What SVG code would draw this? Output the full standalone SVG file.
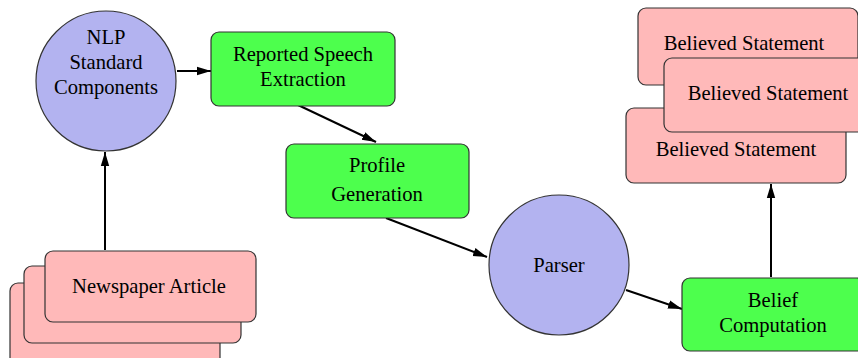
<svg xmlns="http://www.w3.org/2000/svg" width="858" height="358" viewBox="0 0 858 358">
<style>
text{font-size:20.6px;fill:#000;text-anchor:middle}
.pink{fill:#ffb9b9;stroke:#333;stroke-width:1.2}
.green{fill:#4dff4d;stroke:#333;stroke-width:1.2}
.blue{fill:#b3b3f0;stroke:#333;stroke-width:1.2}
.edge{stroke:#000;stroke-width:2;fill:none;marker-end:url(#arr)}
</style>
<defs>
<marker id="arr" markerUnits="userSpaceOnUse" markerWidth="15" markerHeight="10" refX="14" refY="5" orient="auto">
<path d="M0,0.8 L14,5 L0,9.2 z" fill="#000"/>
</marker>
</defs>
<rect width="858" height="358" fill="#fff"/>
<g id="connectors">
<line class="edge" x1="177" y1="71" x2="211" y2="71"/>
<line class="edge" x1="298" y1="105" x2="376" y2="142"/>
<line class="edge" x1="386" y1="218" x2="487" y2="257"/>
<line class="edge" x1="626" y1="290" x2="682" y2="309"/>
<line class="edge" x1="771" y1="277" x2="771" y2="184"/>
<line class="edge" x1="105" y1="250" x2="105" y2="152"/>
</g>
<g font-family="Liberation Serif, Times New Roman, serif">
<g id="newspaper-article">
<rect class="pink" x="10" y="283" width="210" height="85" rx="8"/>
<rect class="pink" x="24" y="266" width="217" height="77" rx="8"/>
<rect class="pink" x="45" y="251" width="211" height="71" rx="8"/>
<text x="149" y="293">Newspaper Article</text>
</g>
<g id="nlp">
<circle class="blue" cx="106" cy="81" r="70"/>
<text x="106" y="44">NLP</text>
<text x="106" y="69">Standard</text>
<text x="106" y="94">Components</text>
</g>
<g id="reported-speech">
<rect class="green" x="211" y="32" width="184" height="74" rx="8"/>
<text x="303" y="61">Reported Speech</text>
<text x="303" y="86">Extraction</text>
</g>
<g id="profile">
<rect class="green" x="286" y="144" width="183" height="74" rx="8"/>
<text x="377" y="172">Profile</text>
<text x="377" y="201">Generation</text>
</g>
<g id="parser">
<circle class="blue" cx="559" cy="265" r="70"/>
<text x="559" y="272">Parser</text>
</g>
<g id="belief">
<rect class="green" x="682" y="278" width="183" height="73" rx="8"/>
<text x="773" y="307">Belief</text>
<text x="773" y="332">Computation</text>
</g>
<g id="believed-statements">
<rect class="pink" x="638" y="8" width="220" height="77" rx="8"/>
<text x="744" y="50">Believed Statement</text>
<rect class="pink" x="626" y="108" width="220" height="75" rx="8"/>
<text x="736" y="156">Believed Statement</text>
<rect class="pink" x="664" y="58" width="222" height="74" rx="8"/>
<text x="768" y="100">Believed Statement</text>
</g>
</g>
</svg>
